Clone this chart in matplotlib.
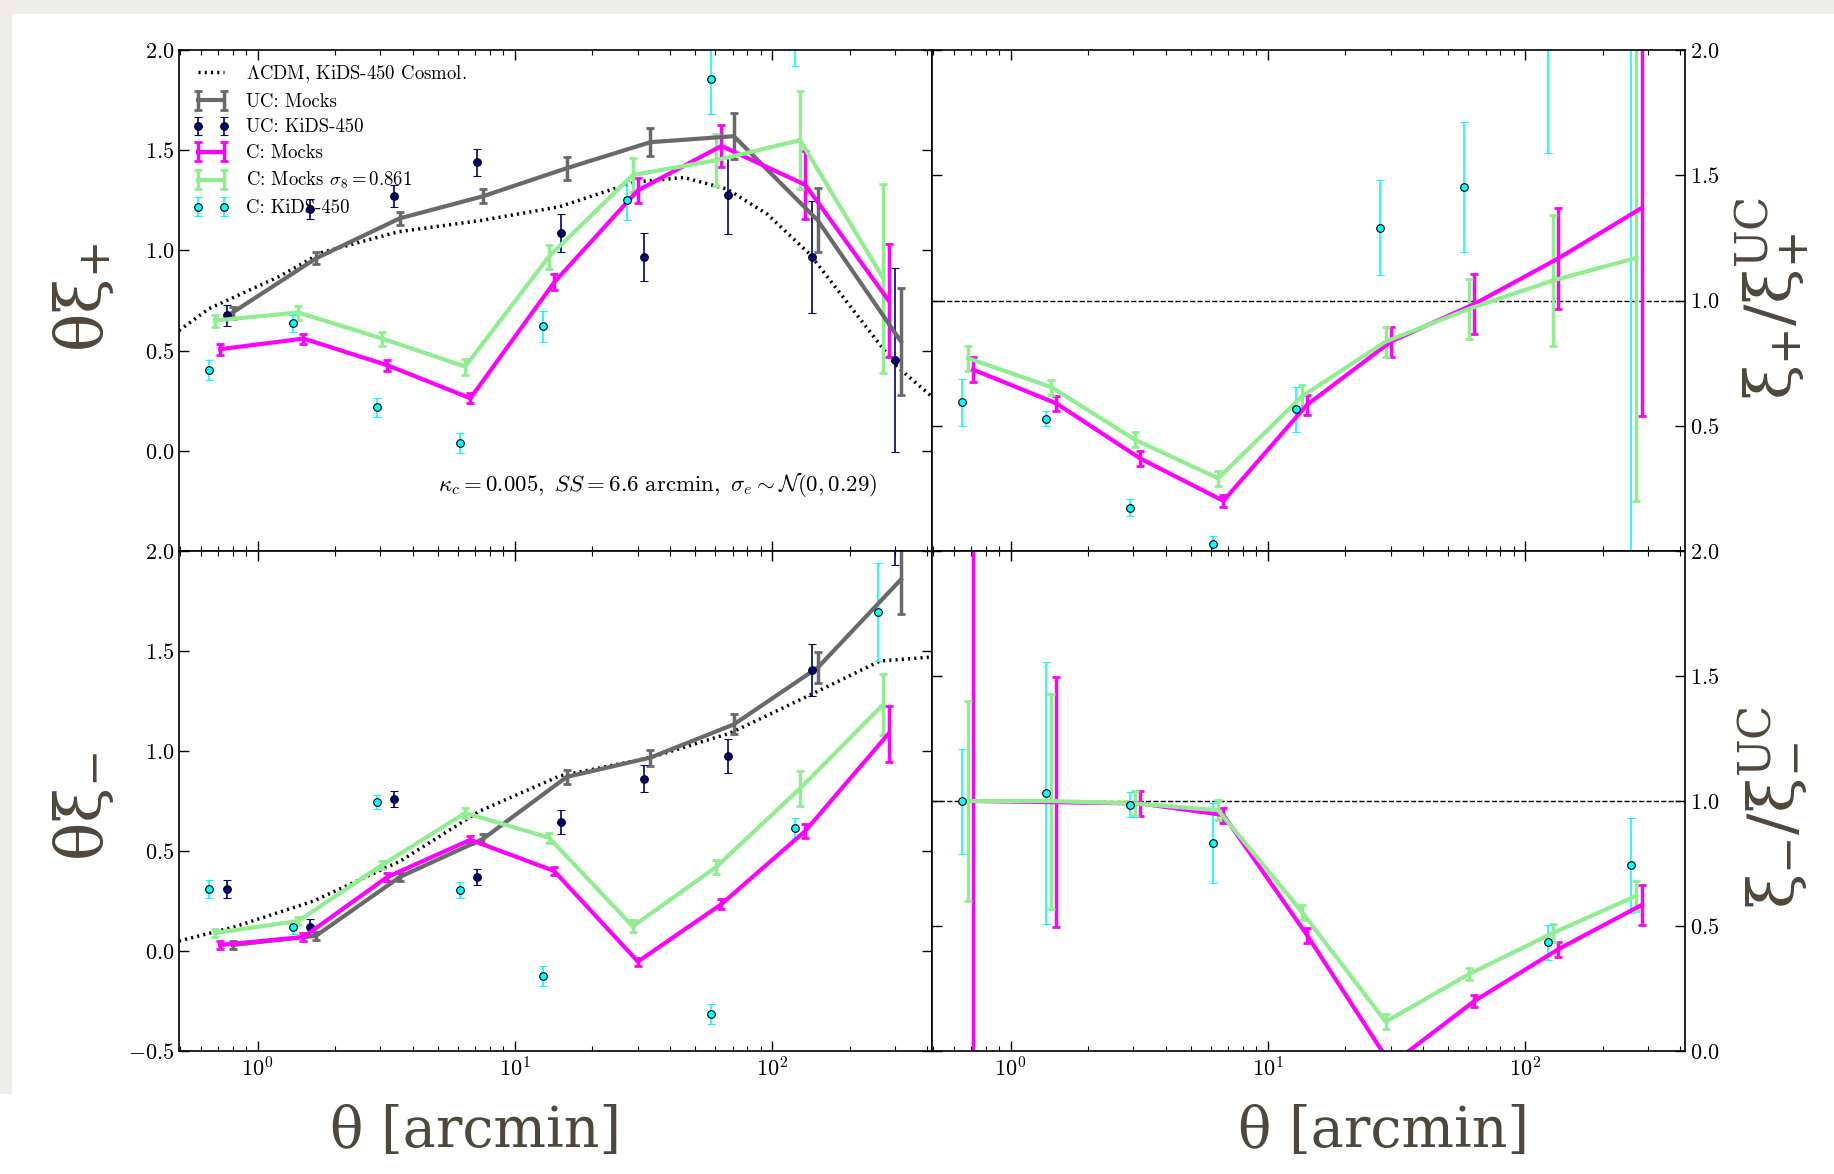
#### Clipped vs unclipped shear correlation functions ####

import numpy as np
import matplotlib
matplotlib.use('Agg')
import matplotlib.pyplot as plt
from matplotlib.patches import Rectangle

plt.rcParams['font.family'] = 'cmr10'
plt.rcParams['mathtext.fontset'] = 'cm'
plt.rcParams['axes.unicode_minus'] = False
plt.rcParams['axes.formatter.use_mathtext'] = True

nan = np.nan

# Angular bins [arcmin] (C: KiDS-450 positions, other series drawn slightly shifted)
theta = np.array([0.65, 1.37, 2.9, 6.1, 12.9, 27.3, 57.6, 122, 257])

# LCDM prediction
theory_theta_p = [0.495, 0.649, 1.214, 1.78, 3.52, 7.44, 14.9, 28.9, 45.3, 66.7, 95.5, 140, 201, 305, 417]
theory_xip = [0.60, 0.71, 0.87, 0.99, 1.093, 1.15, 1.218, 1.34, 1.364, 1.306, 1.181, 0.98, 0.72, 0.42, 0.27]
theory_theta_m = [0.495, 0.81, 1.65, 3.59, 7.3, 14.9, 33.6, 68.7, 140, 262, 417]
theory_xim = [0.05, 0.12, 0.25, 0.45, 0.70, 0.875, 0.967, 1.09, 1.28, 1.45, 1.47]

# theta * xi_+  (x 1e4)
xip_uc_mock = [0.69, 0.96, 1.16, 1.27, 1.41, 1.54, 1.57, 1.15, 0.545]
xip_uc_mock_err = [0.03, 0.03, 0.033, 0.035, 0.057, 0.071, 0.115, 0.16, 0.265]
xip_uc_kids = [0.677, 1.207, 1.273, 1.44, 1.088, 0.969, 1.276, 0.969, 0.453]
xip_uc_kids_err = [0.052, 0.05, 0.054, 0.067, 0.096, 0.12, 0.196, 0.28, 0.457]
xip_c_mock = [0.507, 0.56, 0.427, 0.262, 0.84, 1.30, 1.521, 1.327, 0.75]
xip_c_mock_err = [0.028, 0.025, 0.028, 0.025, 0.04, 0.062, 0.105, 0.17, 0.28]
xip_c_s8 = [0.65, 0.69, 0.56, 0.42, 0.969, 1.376, 1.45, 1.55, 0.86]
xip_c_s8_err = [0.03, 0.035, 0.035, 0.04, 0.06, 0.083, 0.13, 0.245, 0.47]
xip_c_kids = [0.403, 0.637, 0.218, 0.04, 0.622, 1.25, 1.854, 2.10, nan]
xip_c_kids_err = [0.05, 0.042, 0.047, 0.05, 0.077, 0.096, 0.174, 0.18, nan]

# theta * xi_-
xim_uc_mock = [0.03, 0.076, 0.37, 0.56, 0.87, 0.967, 1.133, 1.417, 1.858]
xim_uc_mock_err = [0.02, 0.02, 0.02, 0.025, 0.037, 0.04, 0.05, 0.077, 0.175]
xim_uc_kids = [0.31, 0.12, 0.76, 0.37, 0.643, 0.862, 0.975, 1.405, 2.10]
xim_uc_kids_err = [0.045, 0.04, 0.04, 0.04, 0.06, 0.069, 0.083, 0.13, 0.17]
xim_c_mock = [0.03, 0.07, 0.37, 0.556, 0.40, -0.053, 0.234, 0.60, 1.087]
xim_c_mock_err = [0.02, 0.02, 0.02, 0.02, 0.02, 0.02, 0.025, 0.035, 0.14]
xim_c_s8 = [0.09, 0.15, 0.43, 0.69, 0.567, 0.123, 0.42, 0.813, 1.233]
xim_c_s8_err = [0.02, 0.02, 0.02, 0.025, 0.025, 0.03, 0.035, 0.087, 0.153]
xim_c_kids = [0.31, 0.12, 0.747, 0.304, -0.123, nan, -0.316, 0.614, 1.695]
xim_c_kids_err = [0.045, 0.035, 0.035, 0.04, 0.05, nan, 0.05, 0.05, 0.243]

# ratios xi_+ / xi_+^UC
rp_c_mock = [0.724, 0.589, 0.369, 0.20, 0.584, 0.836, 0.986, 1.168, 1.369]
rp_c_mock_err = [0.05, 0.03, 0.03, 0.025, 0.04, 0.06, 0.12, 0.2, 0.83]
rp_c_s8 = [0.77, 0.654, 0.444, 0.29, 0.617, 0.836, 0.967, 1.08, 1.17]
rp_c_s8_err = [0.05, 0.03, 0.03, 0.03, 0.045, 0.06, 0.12, 0.26, 0.97]
rp_c_kids = [0.593, 0.528, 0.173, 0.028, 0.565, 1.29, 1.453, 2.15, -0.6]
rp_c_kids_err = [0.095, 0.03, 0.035, 0.03, 0.09, 0.19, 0.26, 0.56, 2.8]

# ratios xi_- / xi_-^UC
rm_c_mock = [1.0, 0.995, 0.99, 0.944, 0.463, -0.055, 0.2, 0.407, 0.584]
rm_c_mock_err = [1.5, 0.5, 0.05, 0.03, 0.03, 0.03, 0.025, 0.03, 0.08]
rm_c_s8 = [1.0, 1.0, 0.99, 0.963, 0.556, 0.117, 0.308, 0.472, 0.621]
rm_c_s8_err = [0.4, 0.43, 0.05, 0.04, 0.03, 0.03, 0.025, 0.035, 0.06]
rm_c_kids = [1.0, 1.033, 0.986, 0.832, nan, nan, nan, 0.435, 0.743]
rm_c_kids_err = [0.21, 0.525, 0.05, 0.16, nan, nan, nan, 0.07, 0.19]

# small x-offsets so the series don't overlap
shift = {'c_kids': 1.0, 'c_s8': 1.05, 'c_mock': 1.10, 'uc_kids': 1.165, 'uc_mock': 1.23}

label_color = '#4f473b'
mock_kw = dict(lw=3, elinewidth=2.5, capsize=3, capthick=2)
data_kw = dict(fmt='o', ms=5.5, mec='black', mew=0.8, elinewidth=1.2, capsize=3, capthick=1.2)


def mocks(ax, y, err, color, key, label=None):
    ax.errorbar(theta * shift[key], y, yerr=err, color=color, label=label, **mock_kw)


def kids(ax, y, err, color, key, label=None):
    ax.errorbar(theta * shift[key], y, yerr=err, mfc=color, ecolor=color, label=label, **data_kw)


fig = plt.figure(figsize=(18.34, 11.74), dpi=100)
fig.patch.set_facecolor('#eeece9')
fig.patches.append(Rectangle((12 / 1834, 0), 1, 1 - 14 / 1174, transform=fig.transFigure,
                             facecolor='white', edgecolor='none', zorder=-5))
fig.patches.append(Rectangle((0, 0), 12 / 1834, 0.068, transform=fig.transFigure,
                             facecolor='white', edgecolor='none', zorder=-5))

x0, xm, x1 = 179 / 1834, 932 / 1834, 1685 / 1834
yb, ym, yt = 1 - 1051 / 1174, 1 - 551 / 1174, 1 - 50 / 1174
ax_tl = fig.add_axes([x0, ym, xm - x0, yt - ym])
ax_tr = fig.add_axes([xm, ym, x1 - xm, yt - ym])
ax_bl = fig.add_axes([x0, yb, xm - x0, ym - yb])
ax_br = fig.add_axes([xm, yb, x1 - xm, ym - yb])

# --- left column: theta * xi ---
ax_tl.plot(theory_theta_p, theory_xip, color='black', lw=2.5, ls=(0, (0.6, 1.2)),
           label=r'$\Lambda$CDM, KiDS-450 Cosmol.')
mocks(ax_tl, xip_uc_mock, xip_uc_mock_err, 'dimgray', 'uc_mock', 'UC: Mocks')
kids(ax_tl, xip_uc_kids, xip_uc_kids_err, 'navy', 'uc_kids', 'UC: KiDS-450')
mocks(ax_tl, xip_c_mock, xip_c_mock_err, 'magenta', 'c_mock', 'C: Mocks')
mocks(ax_tl, xip_c_s8, xip_c_s8_err, 'lightgreen', 'c_s8', r'C: Mocks $\sigma_8 = 0.861$')
kids(ax_tl, xip_c_kids, xip_c_kids_err, 'cyan', 'c_kids', 'C: KiDS-450')
ax_tl.legend(loc='upper left', frameon=False, numpoints=2, fontsize=13.5,
             labelspacing=0.42, handlelength=2.0, handletextpad=0.9,
             borderaxespad=0.3)
ax_tl.text(0.927, 0.132,
           r'$\kappa_c = 0.005,\ SS = 6.6\ \mathrm{arcmin},\ \sigma_e \sim \mathcal{N}(0, 0.29)$',
           transform=ax_tl.transAxes, ha='right', va='center', fontsize=16.5)

ax_bl.plot(theory_theta_m, theory_xim, color='black', lw=2.5, ls=(0, (0.6, 1.2)))
mocks(ax_bl, xim_uc_mock, xim_uc_mock_err, 'dimgray', 'uc_mock')
kids(ax_bl, xim_uc_kids, xim_uc_kids_err, 'navy', 'uc_kids')
mocks(ax_bl, xim_c_mock, xim_c_mock_err, 'magenta', 'c_mock')
mocks(ax_bl, xim_c_s8, xim_c_s8_err, 'lightgreen', 'c_s8')
kids(ax_bl, xim_c_kids, xim_c_kids_err, 'cyan', 'c_kids')

# --- right column: ratios to unclipped ---
for ax in (ax_tr, ax_br):
    ax.axhline(1.0, color='black', ls='--', lw=1)
mocks(ax_tr, rp_c_mock, rp_c_mock_err, 'magenta', 'c_mock')
mocks(ax_tr, rp_c_s8, rp_c_s8_err, 'lightgreen', 'c_s8')
kids(ax_tr, rp_c_kids, rp_c_kids_err, 'cyan', 'c_kids')
mocks(ax_br, rm_c_mock, rm_c_mock_err, 'magenta', 'c_mock')
mocks(ax_br, rm_c_s8, rm_c_s8_err, 'lightgreen', 'c_s8')
kids(ax_br, rm_c_kids, rm_c_kids_err, 'cyan', 'c_kids')

# --- axes cosmetics ---
for ax in (ax_tl, ax_tr, ax_bl, ax_br):
    ax.set_xscale('log')
    ax.set_xlim(0.495, 417)
    ax.tick_params(which='both', direction='in', top=True, right=True, labelsize=16)
    ax.tick_params(which='major', length=7, width=1)
    ax.tick_params(which='minor', length=3.5, width=0.8)
    for s in ax.spines.values():
        s.set_linewidth(1.2)

for ax in (ax_tl, ax_tr):
    ax.tick_params(labelbottom=False)

ax_tl.set_ylim(-0.5, 2.0)
ax_tl.set_yticks([-0.5, 0.0, 0.5, 1.0, 1.5, 2.0])
ax_tl.set_yticklabels(['', '$0.0$', '$0.5$', '$1.0$', '$1.5$', '$2.0$'])
ax_bl.set_ylim(-0.5, 2.0)
ax_bl.set_yticks([-0.5, 0.0, 0.5, 1.0, 1.5, 2.0])
ax_bl.set_yticklabels(['$-0.5$', '$0.0$', '$0.5$', '$1.0$', '$1.5$', '$2.0$'])

ax_tr.set_ylim(0.0, 2.0)
ax_tr.set_yticks([0.0, 0.5, 1.0, 1.5, 2.0])
ax_tr.set_yticklabels(['', '$0.5$', '$1.0$', '$1.5$', '$2.0$'])
ax_br.set_ylim(0.0, 2.0)
ax_br.set_yticks([0.0, 0.5, 1.0, 1.5, 2.0])
ax_br.set_yticklabels(['$0.0$', '$0.5$', '$1.0$', '$1.5$', '$2.0$'])
for ax in (ax_tr, ax_br):
    ax.tick_params(labelleft=False, labelright=True)

# --- big axis labels ---
lab = dict(color=label_color, fontsize=46, math_fontfamily='dejavuserif', ha='center', va='center')
fig.text(84 / 1834, 1 - 298 / 1174, r'$\mathrm{\theta\xi_{+}}$', rotation=90, **lab)
fig.text(84 / 1834, 1 - 807 / 1174, r'$\mathrm{\theta\xi_{-}}$', rotation=90, **lab)
fig.text(1772 / 1834, 1 - 298 / 1174, r'$\mathrm{\xi_{+}/\xi^{UC}_{+}}$', rotation=90, **lab)
fig.text(1772 / 1834, 1 - 807 / 1174, r'$\mathrm{\xi_{-}/\xi^{UC}_{-}}$', rotation=90, **lab)
fig.text(475 / 1834, 1 - 1132 / 1174, u'\u03b8 [arcmin]', family='DejaVu Serif',
         color=label_color, fontsize=40, ha='center', va='center')
fig.text(1383 / 1834, 1 - 1132 / 1174, u'\u03b8 [arcmin]', family='DejaVu Serif',
         color=label_color, fontsize=40, ha='center', va='center')

fig.savefig('out.png', dpi=100, facecolor=fig.get_facecolor())
